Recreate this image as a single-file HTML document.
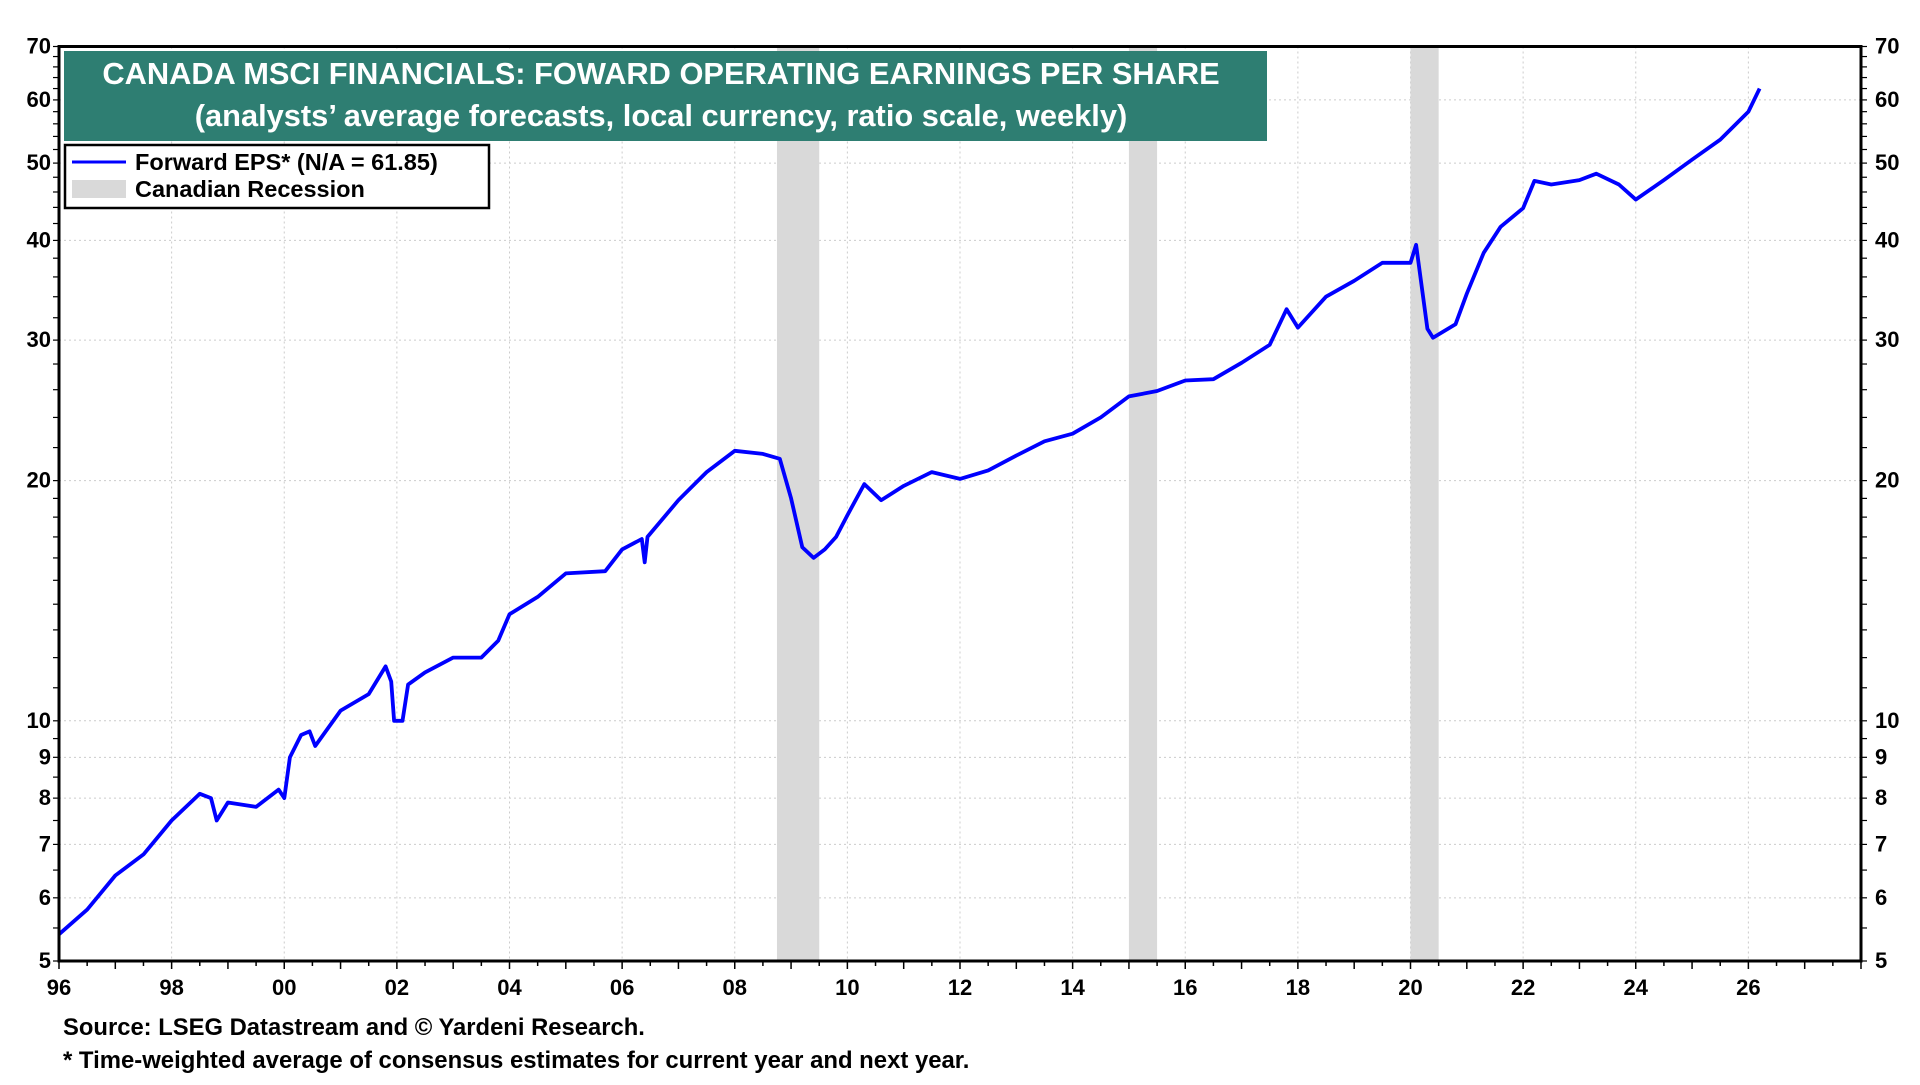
<!DOCTYPE html>
<html><head><meta charset="utf-8">
<style>
html,body{margin:0;padding:0;background:#fff;}
body{width:1920px;height:1080px;overflow:hidden;font-family:"Liberation Sans",Arial,sans-serif;}
svg text{font-family:"Liberation Sans",Arial,sans-serif;font-weight:bold;}
</style></head>
<body>
<svg id="chart" width="1920" height="1080" xmlns="http://www.w3.org/2000/svg">
<g id="grid"></g>
<g id="rec"></g>
<g id="ticks"></g>
<path id="line" fill="none" stroke="#0000ff" stroke-width="3.8" stroke-linejoin="round"/>
<rect x="59" y="46.5" width="1802" height="914.5" fill="none" stroke="#000" stroke-width="3"/>
<g>
<rect x="64" y="51" width="1203" height="90" fill="#2e7e72"/>
<text x="661" y="84" fill="#fff" font-size="30.8" text-anchor="middle">CANADA MSCI FINANCIALS: FOWARD OPERATING EARNINGS PER SHARE</text>
<text x="661" y="126" fill="#fff" font-size="30.8" text-anchor="middle">(analysts’ average forecasts, local currency, ratio scale, weekly)</text>
</g>
<g>
<rect x="65" y="145" width="424" height="63" fill="#fff" stroke="#000" stroke-width="2.5"/>
<line x1="72" y1="162" x2="126" y2="162" stroke="#0000ff" stroke-width="3"/>
<text x="135" y="170" font-size="23.5">Forward EPS* (N/A = 61.85)</text>
<rect x="72" y="180" width="54" height="18" fill="#d9d9d9"/>
<text x="135" y="197" font-size="23.5">Canadian Recession</text>
</g>
<text x="63" y="1035" font-size="23.8">Source: LSEG Datastream and © Yardeni Research.</text>
<text x="63" y="1068" font-size="23.9">* Time-weighted average of consensus estimates for current year and next year.</text>
</svg>
<script>
const years=[1996,1996.5,1997,1997.5,1998,1998.5,1998.7,1998.8,1999,1999.5,1999.9,2000.0,2000.1,2000.3,2000.45,2000.55,2001,2001.5,2001.8,2001.9,2001.95,2002.1,2002.2,2002.5,2003,2003.5,2003.8,2004,2004.5,2005,2005.7,2006,2006.35,2006.4,2006.45,2007,2007.5,2008,2008.5,2008.8,2009.0,2009.2,2009.4,2009.6,2009.8,2010.0,2010.3,2010.6,2011,2011.5,2012,2012.5,2013,2013.5,2014,2014.5,2015,2015.5,2016,2016.5,2017,2017.5,2017.8,2018,2018.5,2019,2019.5,2020,2020.1,2020.3,2020.4,2020.8,2021,2021.3,2021.6,2022,2022.2,2022.5,2023,2023.3,2023.7,2024,2024.5,2025,2025.5,2026,2026.2];
const eps=[5.4,5.8,6.4,6.8,7.5,8.1,8.0,7.5,7.9,7.8,8.2,8.0,9.0,9.6,9.7,9.3,10.3,10.8,11.7,11.2,10.0,10.0,11.1,11.5,12.0,12.0,12.6,13.6,14.3,15.3,15.4,16.4,16.9,15.8,17.0,18.9,20.5,21.8,21.6,21.3,19.0,16.5,16.0,16.4,17.0,18.1,19.8,18.9,19.7,20.5,20.1,20.6,21.5,22.4,22.9,24.0,25.5,25.9,26.7,26.8,28.1,29.6,32.8,31.1,34.0,35.6,37.5,37.5,39.5,31.0,30.2,31.4,34.3,38.6,41.6,43.9,47.5,47.0,47.6,48.5,47.0,45.0,47.6,50.5,53.5,58.0,62.0];
const recStart=[2008.75,2015.0,2020.0];
const recEnd=[2009.5,2015.5,2020.5];
const yTicks=[5,6,7,8,9,10,20,30,40,50,60,70];
const xTickYears=[1996,1998,2000,2002,2004,2006,2008,2010,2012,2014,2016,2018,2020,2022,2024,2026];
const xLabels=["96","98","00","02","04","06","08","10","12","14","16","18","20","22","24","26"];
const L=59,R=1861,T=46.5,B=961,X0=1996,X1=2028,Ymin=5,Ymax=70;
const sx=y=>L+(y-X0)/(X1-X0)*(R-L);
const sy=v=>B-Math.log(v/Ymin)/Math.log(Ymax/Ymin)*(B-T);
const NS="http://www.w3.org/2000/svg";
function mk(tag,attrs,parent){const e=document.createElementNS(NS,tag);for(const k in attrs)e.setAttribute(k,attrs[k]);parent.appendChild(e);return e;}
const grid=document.getElementById('grid'),rec=document.getElementById('rec'),tk=document.getElementById('ticks');
for(let i=0;i<recStart.length;i++){
 const r=mk('rect',{x:sx(recStart[i]),y:T,width:sx(recEnd[i])-sx(recStart[i]),height:B-T,fill:'#d9d9d9'},rec);
 
 
}
xTickYears.forEach((y,i)=>{
 const g=mk('line',{x1:sx(y),x2:sx(y),y1:T,y2:B,stroke:'#ccc','stroke-dasharray':'2,3','stroke-width':1},grid);
 
 
 const t=mk('text',{x:sx(y),y:B+34,'font-size':22,'text-anchor':'middle'},tk);
 t.textContent=xLabels[i];
 
 
});
for(let y=X0;y<=X1;y+=0.5){const big=Number.isInteger(y);mk('line',{x1:sx(y),x2:sx(y),y1:B,y2:B+(big?8:5),stroke:'#000','stroke-width':1.5},tk);}
yTicks.forEach(v=>{
 const g=mk('line',{x1:L,x2:R,y1:sy(v),y2:sy(v),stroke:'#ccc','stroke-dasharray':'2,3','stroke-width':1},grid);
 
 
 const a=mk('text',{x:L-8,y:sy(v)+7,'font-size':22,'text-anchor':'end'},tk);
 a.textContent=v;
 
 
 const b=mk('text',{x:R+14,y:sy(v)+7,'font-size':22,'text-anchor':'start'},tk);
 b.textContent=v;
 
 
});
for(let v=5;v<=70;v+=(v<10?0.5:(v<20?1:2))){mk('line',{x1:L-6,x2:L,y1:sy(v),y2:sy(v),stroke:'#000','stroke-width':1.2},tk);mk('line',{x1:R,x2:R+6,y1:sy(v),y2:sy(v),stroke:'#000','stroke-width':1.2},tk);}
document.getElementById('line').setAttribute('d',years.map((y,i)=>(i?'L':'M')+sx(y).toFixed(1)+','+sy(eps[i]).toFixed(1)).join(' '));
</script>
</body></html>
